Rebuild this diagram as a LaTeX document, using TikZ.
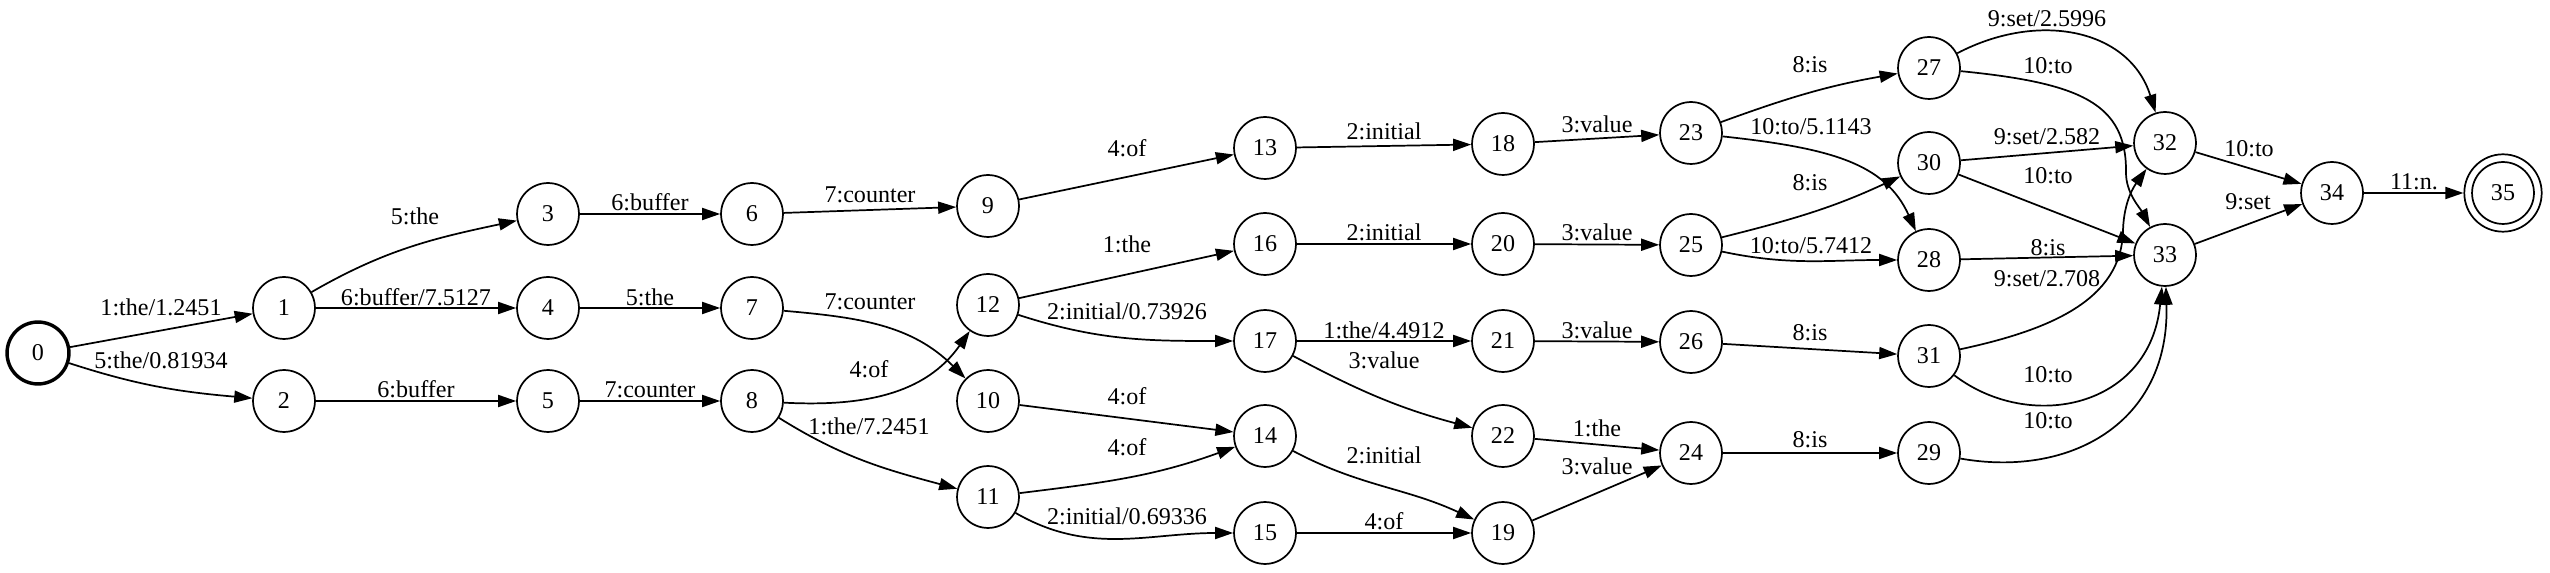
\documentclass[tikz,border=0pt]{standalone}
\usepackage{fontspec}
\setmainfont{Liberation Serif}
\usetikzlibrary{arrows.meta}

\begin{document}
\begin{tikzpicture}[x=0.5814pt, y=0.5814pt,
    state/.style={draw, circle, line width=1pt, minimum size=36pt, inner sep=0pt, font=\fontsize{14}{16}\selectfont},
    start/.style={state, line width=2pt},
    ring/.style={draw, circle, line width=1pt, minimum size=45pt, inner sep=0pt},
    arc/.style={-{Triangle[length=10.5pt, width=7pt]}, line width=1pt},
    lbl/.style={inner sep=0pt, font=\fontsize{14}{16}\selectfont}]
    \useasboundingbox (0,0) rectangle (2550,573);
    % states
    \node[start] (n0) at (38,220) {0};
    \node[state] (n1) at (284,265) {1};
    \node[state] (n2) at (284,172) {2};
    \node[state] (n3) at (548,359) {3};
    \node[state] (n4) at (548,265) {4};
    \node[state] (n5) at (548,172) {5};
    \node[state] (n6) at (752,359) {6};
    \node[state] (n7) at (752,265) {7};
    \node[state] (n8) at (752,172) {8};
    \node[state] (n9) at (988,367) {9};
    \node[state] (n12) at (988,268) {12};
    \node[state] (n10) at (988,172) {10};
    \node[state] (n11) at (988,76) {11};
    \node[state] (n13) at (1265,425) {13};
    \node[state] (n16) at (1265,329) {16};
    \node[state] (n17) at (1265,232) {17};
    \node[state] (n14) at (1265,137) {14};
    \node[state] (n15) at (1265,40) {15};
    \node[state] (n18) at (1503,429) {18};
    \node[state] (n20) at (1503,329) {20};
    \node[state] (n21) at (1503,232) {21};
    \node[state] (n22) at (1503,137) {22};
    \node[state] (n19) at (1503,40) {19};
    \node[state] (n23) at (1691,440) {23};
    \node[state] (n25) at (1691,328) {25};
    \node[state] (n26) at (1691,231) {26};
    \node[state] (n24) at (1691,120) {24};
    \node[state] (n27) at (1929,505) {27};
    \node[state] (n30) at (1929,410) {30};
    \node[state] (n28) at (1929,313) {28};
    \node[state] (n31) at (1929,217) {31};
    \node[state] (n29) at (1929,120) {29};
    \node[state] (n32) at (2165,430) {32};
    \node[state] (n33) at (2165,318) {33};
    \node[state] (n34) at (2332,380) {34};
    \node[state] (n35) at (2503,380) {35};
    \node[ring] (n35r) at (n35) {};
    % arcs
    \draw[arc] (n0) -- (n1) node[lbl] (e1) at (161,266) {1:the/1.2451};
    \draw[arc] (n0) to[out=-18, in=175] (n2) node[lbl] (e2) at (161,213) {5:the/0.81934};
    \draw[arc] (n1) to[out=30, in=192] (n3) node[lbl] (e3) at (415,357) {5:the};
    \draw[arc] (n1) -- (n4) node[lbl] (e4) at (416,276) {6:buffer/7.5127};
    \draw[arc] (n2) -- (n5) node[lbl] (e5) at (416,184) {6:buffer};
    \draw[arc] (n3) -- (n6) node[lbl] (e6) at (650,371) {6:buffer};
    \draw[arc] (n4) -- (n7) node[lbl] (e7) at (650,276) {5:the};
    \draw[arc] (n5) -- (n8) node[lbl] (e8) at (650,183) {7:counter};
    \draw[arc] (n6) -- (n9) node[lbl] (e9) at (870,378) {7:counter};
    \draw[arc] (n7) to[out=-5, in=135] (n10) node[lbl] (e10) at (870,271) {7:counter};
    \draw[arc] (n8) to[out=-3, in=235] (n12) node[lbl] (e11) at (869,204) {4:of};
    \draw[arc] (n8) to[out=-32, in=165] (n11) node[lbl] (e12) at (869,147) {1:the/7.2451};
    \draw[arc] (n9) -- (n13) node[lbl] (e13) at (1127,425) {4:of};
    \draw[arc] (n12) -- (n16) node[lbl] (e14) at (1127,329) {1:the};
    \draw[arc] (n12) to[out=-18, in=180] (n17) node[lbl] (e15) at (1127,262) {2:initial/0.73926};
    \draw[arc] (n10) -- (n14) node[lbl] (e16) at (1127,177) {4:of};
    \draw[arc] (n11) to[out=7, in=200] (n14) node[lbl] (e17) at (1127,126) {4:of};
    \draw[arc] (n11) to[out=-30, in=180] (n15) node[lbl] (e18) at (1127,57) {2:initial/0.69336};
    \draw[arc] (n13) -- (n18) node[lbl] (e19) at (1384,442) {2:initial};
    \draw[arc] (n16) -- (n20) node[lbl] (e20) at (1384,341) {2:initial};
    \draw[arc] (n17) -- (n21) node[lbl] (e21) at (1384,243) {1:the/4.4912};
    \draw[arc] (n17) to[out=-28, in=165] (n22) node[lbl] (e22) at (1384,213) {3:value};
    \draw[arc] (n14) to[out=-28, in=155] (n19) node[lbl] (e23) at (1384,118) {2:initial};
    \draw[arc] (n15) -- (n19) node[lbl] (e24) at (1384,52) {4:of};
    \draw[arc] (n18) -- (n23) node[lbl] (e25) at (1597,449) {3:value};
    \draw[arc] (n20) -- (n25) node[lbl] (e26) at (1597,341) {3:value};
    \draw[arc] (n21) -- (n26) node[lbl] (e27) at (1597,243) {3:value};
    \draw[arc] (n22) -- (n24) node[lbl] (e28) at (1597,145) {1:the};
    \draw[arc] (n19) -- (n24) node[lbl] (e29) at (1597,107) {3:value};
    \draw[arc] (n23) to[out=20, in=190] (n27) node[lbl] (e30) at (1810,508) {8:is};
    \draw[arc] (n23) .. controls (1830,425) and (1885,410) .. (n28) node[lbl] (e31) at (1811,446) {10:to/5.1143};
    \draw[arc] (n25) to[out=14, in=205] (n30) node[lbl] (e32) at (1810,390) {8:is};
    \draw[arc] (n25) to[out=-12, in=180] (n28) node[lbl] (e33) at (1811,327) {10:to/5.7412};
    \draw[arc] (n26) -- (n31) node[lbl] (e34) at (1810,240) {8:is};
    \draw[arc] (n24) -- (n29) node[lbl] (e35) at (1810,133) {8:is};
    \draw[arc] (n27) .. controls (2040,563) and (2130,543) .. (n32) node[lbl] (e36) at (2047,554) {9:set/2.5996};
    \draw[arc] (n27) .. controls (2080,490) and (2127,470) .. (2126,400) .. controls (2126,380) and (2140,365) .. (n33) node[lbl] (e37) at (2048,507) {10:to};
    \draw[arc] (n30) -- (n32) node[lbl] (e38) at (2047,436) {9:set/2.582};
    \draw[arc] (n30) -- (n33) node[lbl] (e39) at (2048,397) {10:to};
    \draw[arc] (n28) -- (n33) node[lbl] (e40) at (2048,325) {8:is};
    \draw[arc] (n31) .. controls (2050,243) and (2122,273) .. (2123,343) .. controls (2124,373) and (2135,388) .. (n32) node[lbl] (e41) at (2047,294) {9:set/2.708};
    \draw[arc] (n31) .. controls (2030,140) and (2150,165) .. (n33) node[lbl] (e42) at (2048,198) {10:to};
    \draw[arc] (n29) .. controls (2070,95) and (2170,150) .. (n33) node[lbl] (e43) at (2048,152) {10:to};
    \draw[arc] (n32) -- (n34) node[lbl] (e44) at (2249,424) {10:to};
    \draw[arc] (n33) -- (n34) node[lbl] (e45) at (2248,371) {9:set};
    \draw[arc] (n34) -- (n35r) node[lbl] (e46) at (2414,391) {11:n.};
\end{tikzpicture}
\end{document}
